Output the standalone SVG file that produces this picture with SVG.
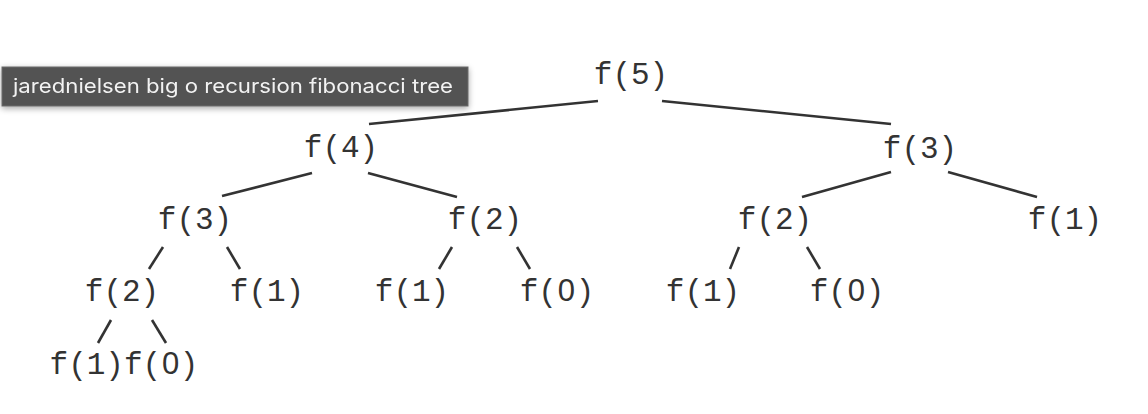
<svg xmlns="http://www.w3.org/2000/svg" width="1148" height="414" viewBox="0 0 1148 414">
<defs>
<style>
.n{font-family:"Liberation Mono","DejaVu Sans Mono",monospace;font-size:31px;fill:#333;text-anchor:middle}
.z{font-family:"Liberation Sans",Arial,sans-serif}
.c line{stroke:#333;stroke-width:2.6;stroke-linecap:butt}
.tip{font-family:Inter,"Liberation Sans",Arial,sans-serif;font-size:20px;fill:#f2f2f2}
</style>
<filter id="sh" x="-10%" y="-50%" width="120%" height="200%">
<feGaussianBlur in="SourceAlpha" stdDeviation="3"/>
<feOffset dy="2"/>
<feComponentTransfer><feFuncA type="linear" slope="0.35"/></feComponentTransfer>
<feMerge><feMergeNode/><feMergeNode in="SourceGraphic"/></feMerge>
</filter>
</defs>
<rect width="1148" height="414" fill="#fff"/>
<g class="c" id="connectors">
<line x1="598" y1="101" x2="369" y2="124"/>
<line x1="662" y1="101" x2="891" y2="124"/>
<line x1="312" y1="173" x2="222" y2="196"/>
<line x1="368" y1="173" x2="457" y2="197"/>
<line x1="891" y1="172" x2="802" y2="197"/>
<line x1="948" y1="172" x2="1037" y2="197"/>
<line x1="163" y1="247" x2="149" y2="269"/>
<line x1="227" y1="247" x2="240" y2="269"/>
<line x1="452" y1="247" x2="439" y2="269"/>
<line x1="517" y1="247" x2="530" y2="269"/>
<line x1="739" y1="247" x2="730" y2="269"/>
<line x1="807" y1="247" x2="820" y2="269"/>
<line x1="111" y1="320" x2="98" y2="343"/>
<line x1="152" y1="320" x2="166" y2="343"/>
</g>
<g id="f5"><text class="n" x="631" y="84">f(5)</text></g>
<g id="f4"><text class="n" x="341" y="157">f(4)</text></g>
<g id="f3r"><text class="n" x="920" y="158">f(3)</text></g>
<g id="f3l"><text class="n" x="195" y="229">f(3)</text></g>
<g id="f2m"><text class="n" x="485" y="229">f(2)</text></g>
<g id="f2r"><text class="n" x="775" y="229">f(2)</text></g>
<g id="f1r"><text class="n" x="1065" y="229">f(1)</text></g>
<g id="f2ll"><text class="n" x="122" y="301">f(2)</text></g>
<g id="f1l"><text class="n" x="267" y="301">f(1)</text></g>
<g id="f1m"><text class="n" x="412" y="301">f(1)</text></g>
<g id="f0m"><text class="n" x="557" y="301">f(<tspan class="z" dx="0.7">0</tspan><tspan dx="0.7">)</tspan></text></g>
<g id="f1rr"><text class="n" x="703" y="301">f(1)</text></g>
<g id="f0rr"><text class="n" x="847" y="301">f(<tspan class="z" dx="0.7">0</tspan><tspan dx="0.7">)</tspan></text></g>
<g id="f1f0"><text class="n" x="124" y="374">f(1)f(<tspan class="z" dx="0.7">0</tspan><tspan dx="0.7">)</tspan></text></g>
<g id="tooltip" filter="url(#sh)">
<rect x="2" y="67" width="466" height="39" fill="#525252" stroke="#6a6a6a" stroke-width="1"/>
<text class="tip" x="13" y="93" textLength="440" lengthAdjust="spacingAndGlyphs">jarednielsen big o recursion fibonacci tree</text>
</g>
</svg>
